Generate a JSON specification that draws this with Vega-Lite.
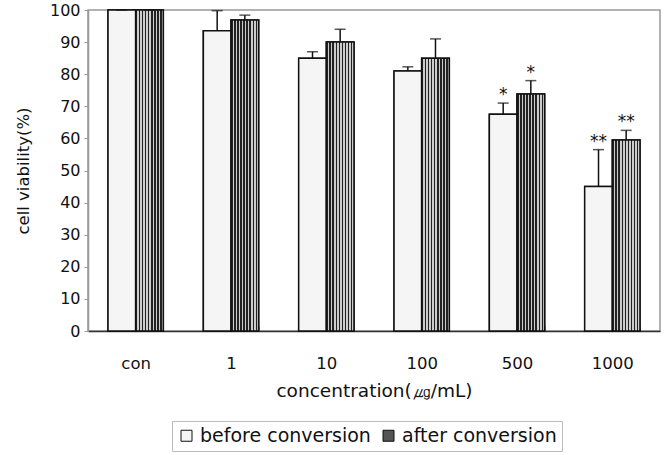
{
  "$schema": "https://vega.github.io/schema/vega-lite/v6.json",
  "width": 572,
  "height": 321,
  "autosize": {"type": "none"},
  "padding": {"left": 88, "top": 10, "right": 5, "bottom": 124},
  "background": "white",
  "config": {
    "font": "DejaVu Sans",
    "view": {"stroke": "#999999", "strokeWidth": 1.5},
    "axisY": {
      "values": [0, 10, 20, 30, 40, 50, 60, 70, 80, 90, 100],
      "grid": false,
      "labelFontSize": 16,
      "labelColor": "#111111",
      "labelPadding": 4,
      "tickSize": 4,
      "tickColor": "#999999",
      "domainColor": "#999999",
      "domainWidth": 1.5,
      "titleFontSize": 16.5,
      "titleFontWeight": "normal",
      "titleColor": "#111111",
      "titlePadding": 18,
      "labelOverlap": false
    }
  },
  "data": {
    "values": [
      {"conc": "con", "group": "before conversion", "value": 100, "upper": 100, "sig": ""},
      {"conc": "con", "group": "after conversion", "value": 100, "upper": 100, "sig": ""},
      {"conc": "1", "group": "before conversion", "value": 93.5, "upper": 99.8, "sig": ""},
      {"conc": "1", "group": "after conversion", "value": 96.9, "upper": 98.4, "sig": ""},
      {"conc": "10", "group": "before conversion", "value": 85, "upper": 87, "sig": ""},
      {"conc": "10", "group": "after conversion", "value": 90, "upper": 94, "sig": ""},
      {"conc": "100", "group": "before conversion", "value": 81, "upper": 82.3, "sig": ""},
      {"conc": "100", "group": "after conversion", "value": 85, "upper": 91, "sig": ""},
      {"conc": "500", "group": "before conversion", "value": 67.5, "upper": 71, "sig": "*"},
      {"conc": "500", "group": "after conversion", "value": 73.8, "upper": 78, "sig": "*"},
      {"conc": "1000", "group": "before conversion", "value": 45, "upper": 56.5, "sig": "**"},
      {"conc": "1000", "group": "after conversion", "value": 59.5, "upper": 62.5, "sig": "**"}
    ]
  },
  "encoding": {
    "x": {
      "field": "conc",
      "type": "nominal",
      "sort": ["con", "1", "10", "100", "500", "1000"],
      "scale": {"paddingInner": 0.42, "paddingOuter": 0.21},
      "axis": {
        "title": "concentration(㎍/mL)",
        "labelAngle": 0,
        "labelFontSize": 16.5,
        "labelColor": "#111111",
        "labelPadding": 29,
        "tickBand": "extent",
        "tickSize": -5,
        "tickColor": "#aaaaaa",
        "domainColor": "#333333",
        "domainWidth": 1.5,
        "titleFontSize": 18.5,
        "titleFontWeight": "normal",
        "titleColor": "#111111",
        "titlePadding": 10
      }
    },
    "xOffset": {"field": "group", "type": "nominal", "sort": ["before conversion", "after conversion"]}
  },
  "layer": [
    {
      "mark": {"type": "bar", "stroke": "#111111", "strokeWidth": 1.5},
      "encoding": {
        "y": {
          "field": "value",
          "type": "quantitative",
          "scale": {"domain": [0, 100], "nice": false},
          "axis": {"title": "cell viability(%)", "values": [0, 10, 20, 30, 40, 50, 60, 70, 80, 90, 100]}
        },
        "fill": {
          "field": "group",
          "type": "nominal",
          "sort": ["before conversion", "after conversion"],
          "scale": {"domain": ["before conversion", "after conversion"], "range": ["#f5f5f5", "#555555"]},
          "legend": {
            "orient": "none",
            "legendX": 84,
            "legendY": 411,
            "direction": "horizontal",
            "title": null,
            "symbolType": "square",
            "symbolSize": 121,
            "symbolStrokeColor": "#111111",
            "symbolStrokeWidth": 1,
            "symbolOpacity": 1,
            "labelFontSize": 19,
            "labelLimit": 400,
            "labelColor": "#111111",
            "labelOffset": 4,
            "columnPadding": 8,
            "padding": 5,
            "strokeColor": "#bbbbbb"
          }
        }
      }
    },
    {
      "mark": {"type": "bar", "stroke": "#111111", "strokeWidth": 1.5},
      "encoding": {
        "y": {"field": "value", "type": "quantitative", "axis": {"title": "cell viability(%)", "values": [0, 10, 20, 30, 40, 50, 60, 70, 80, 90, 100]}},
        "fill": {
          "condition": {
            "test": "datum.group === 'after conversion'",
            "value": {
              "gradient": "linear", "x1": 0, "x2": 1, "y1": 0, "y2": 0,
              "stops": [
                {"offset": 0, "color": "#222222"}, {"offset": 0.0556, "color": "#222222"},
                {"offset": 0.0556, "color": "#cccccc"}, {"offset": 0.1111, "color": "#cccccc"},
                {"offset": 0.1111, "color": "#222222"}, {"offset": 0.1667, "color": "#222222"},
                {"offset": 0.1667, "color": "#cccccc"}, {"offset": 0.2222, "color": "#cccccc"},
                {"offset": 0.2222, "color": "#222222"}, {"offset": 0.2778, "color": "#222222"},
                {"offset": 0.2778, "color": "#cccccc"}, {"offset": 0.3333, "color": "#cccccc"},
                {"offset": 0.3333, "color": "#222222"}, {"offset": 0.3889, "color": "#222222"},
                {"offset": 0.3889, "color": "#cccccc"}, {"offset": 0.4444, "color": "#cccccc"},
                {"offset": 0.4444, "color": "#222222"}, {"offset": 0.5, "color": "#222222"},
                {"offset": 0.5, "color": "#cccccc"}, {"offset": 0.5556, "color": "#cccccc"},
                {"offset": 0.5556, "color": "#222222"}, {"offset": 0.6111, "color": "#222222"},
                {"offset": 0.6111, "color": "#cccccc"}, {"offset": 0.6667, "color": "#cccccc"},
                {"offset": 0.6667, "color": "#222222"}, {"offset": 0.7222, "color": "#222222"},
                {"offset": 0.7222, "color": "#cccccc"}, {"offset": 0.7778, "color": "#cccccc"},
                {"offset": 0.7778, "color": "#222222"}, {"offset": 0.8333, "color": "#222222"},
                {"offset": 0.8333, "color": "#cccccc"}, {"offset": 0.8889, "color": "#cccccc"},
                {"offset": 0.8889, "color": "#222222"}, {"offset": 0.9444, "color": "#222222"},
                {"offset": 0.9444, "color": "#cccccc"}, {"offset": 1, "color": "#cccccc"}
              ]
            }
          },
          "value": "#f5f5f5"
        }
      }
    },
    {
      "mark": {"type": "rule", "color": "#111111", "strokeWidth": 1.5},
      "encoding": {
        "y": {"field": "value", "type": "quantitative", "axis": {"title": "cell viability(%)", "values": [0, 10, 20, 30, 40, 50, 60, 70, 80, 90, 100]}},
        "y2": {"field": "upper"}
      }
    },
    {
      "mark": {"type": "tick", "color": "#111111", "thickness": 1.5, "size": 11},
      "encoding": {
        "y": {"field": "upper", "type": "quantitative", "axis": {"title": "cell viability(%)", "values": [0, 10, 20, 30, 40, 50, 60, 70, 80, 90, 100]}}
      }
    },
    {
      "mark": {"type": "text", "fontSize": 17, "baseline": "alphabetic", "dy": -3, "color": "#111111"},
      "encoding": {
        "y": {"field": "upper", "type": "quantitative", "axis": {"title": "cell viability(%)", "values": [0, 10, 20, 30, 40, 50, 60, 70, 80, 90, 100]}},
        "text": {"field": "sig"}
      }
    }
  ]
}
